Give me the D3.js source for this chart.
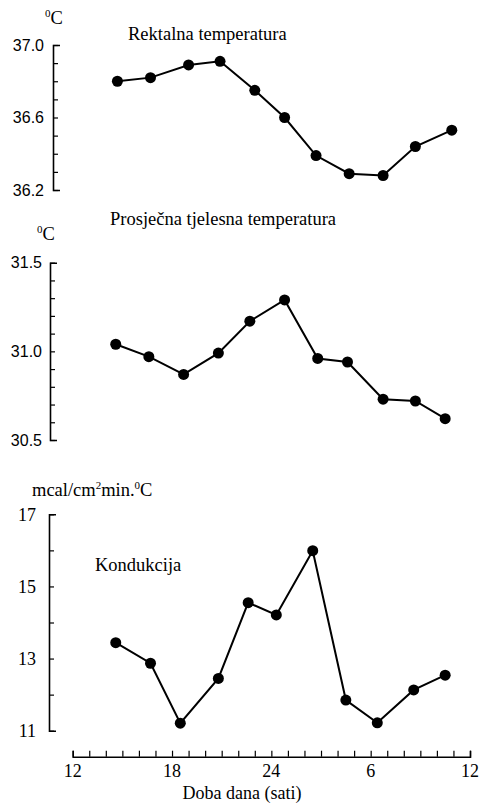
<!DOCTYPE html>
<html>
<head>
<meta charset="utf-8">
<script src="https://cdn.jsdelivr.net/npm/d3@7"></script>
<style>
	body { margin: 0; background: #fff; }
	svg { display: block; }
	.serif { font-family: "Liberation Serif", "DejaVu Serif", "Times New Roman", serif; }
	.sans { font-family: "Liberation Sans", Arial, sans-serif; }
</style>
</head>
<body>
<svg id="chart"></svg>
<script>
// data (hours run 12 -> 36, i.e. noon to noon)
let rectHours = [14.7, 16.7, 19.0, 20.9, 23.0, 24.8, 26.7, 28.7, 30.75, 32.7, 34.9];
let rectTemp = [36.80, 36.82, 36.89, 36.91, 36.75, 36.60, 36.39, 36.29, 36.28, 36.44, 36.53];

let bodyHours = [14.6, 16.6, 18.7, 20.8, 22.7, 24.8, 26.8, 28.6, 30.75, 32.7, 34.5];
let bodyTemp = [31.04, 30.97, 30.87, 30.99, 31.17, 31.29, 30.96, 30.94, 30.73, 30.72, 30.62];

let condHours = [14.6, 16.7, 18.5, 20.8, 22.6, 24.3, 26.5, 28.5, 30.4, 32.6, 34.5];
let condValues = [13.44, 12.87, 11.21, 12.45, 14.55, 14.21, 15.99, 11.85, 11.22, 12.13, 12.54];

let xTickHours = [12, 18, 24, 30, 36];
let xTickLabels = ["12", "18", "24", "6", "12"];

let rectTicks = [37.0, 36.6, 36.2];
let bodyTicks = [31.5, 31.0, 30.5];
let condTicks = [17, 15, 13, 11];

let width = 486;
let height = 803;

let svg = d3.select("#chart")
	.attr("width", width)
	.attr("height", height);

// shared time scale, only drawn under the last panel
let scaleX = d3.scaleLinear()
	.domain([12, 36])
	.range([72.7, 470]);

// one panel: y axis with inward ticks, labels, line and dots
function drawPanel(opts) {
	let scaleY = d3.scaleLinear()
		.domain(opts.domain)
		.range(opts.range);

	let axis = d3.axisRight(scaleY)
		.tickValues(d3.range(opts.domain[0], opts.domain[1] + opts.step / 2, opts.step))
		.tickFormat("")
		.tickSize(5)
		.tickSizeOuter(7);

	let g = svg.append("g")
		.attr("transform", "translate(" + opts.axisX + ",0)")
		.call(axis);
	g.select(".domain").attr("stroke", "#000").attr("stroke-width", 1.6);
	g.selectAll(".tick line").attr("stroke", "#000").attr("stroke-width", 1.2);

	svg.append("g")
		.selectAll("text")
		.data(opts.labels)
		.join("text")
		.attr("class", opts.labelClass)
		.attr("x", opts.axisX - opts.labelGap)
		.attr("y", d => scaleY(d))
		.attr("dy", "0.36em")
		.attr("text-anchor", "end")
		.attr("font-size", opts.labelSize)
		.text(d => opts.fmt(d));

	let pts = opts.hours.map((h, i) => [h, opts.values[i]]);

	let line = d3.line()
		.x(d => scaleX(d[0]))
		.y(d => scaleY(d[1]));

	svg.append("path")
		.datum(pts)
		.attr("d", line)
		.attr("fill", "none")
		.attr("stroke", "#000")
		.attr("stroke-width", 2);

	svg.append("g")
		.selectAll("circle")
		.data(pts)
		.join("circle")
		.attr("cx", d => scaleX(d[0]))
		.attr("cy", d => scaleY(d[1]))
		.attr("r", 5.5)
		.attr("fill", "#000");
}

drawPanel({
	hours: rectHours, values: rectTemp,
	domain: [36.2, 37.0], range: [190, 45], step: 0.1, axisX: 53,
	labels: rectTicks, labelGap: 9, labelClass: "sans", labelSize: 16,
	fmt: d3.format(".1f")
});

drawPanel({
	hours: bodyHours, values: bodyTemp,
	domain: [30.5, 31.5], range: [440, 262.7], step: 0.1, axisX: 50,
	labels: bodyTicks, labelGap: 8, labelClass: "sans", labelSize: 16,
	fmt: d3.format(".1f")
});

drawPanel({
	hours: condHours, values: condValues,
	domain: [11, 17], range: [730.7, 514.3], step: 1, axisX: 49,
	labels: condTicks, labelGap: 13, labelClass: "serif", labelSize: 18,
	fmt: d3.format("d")
});

// time axis with hourly ticks pointing up
let xAxis = d3.axisTop(scaleX)
	.tickValues(d3.range(12, 37, 1))
	.tickFormat("")
	.tickSize(6)
	.tickSizeOuter(6);

let gx = svg.append("g")
	.attr("transform", "translate(0,756.7)")
	.call(xAxis);
gx.select(".domain").attr("stroke", "#000").attr("stroke-width", 1.6);
gx.selectAll(".tick line").attr("stroke", "#000").attr("stroke-width", 1.2);

svg.append("g")
	.selectAll("text")
	.data(xTickHours)
	.join("text")
	.attr("class", "serif")
	.attr("x", d => scaleX(d))
	.attr("y", 777)
	.attr("text-anchor", "middle")
	.attr("font-size", 18)
	.text((d, i) => xTickLabels[i]);

// titles and units
function label(x, y, txt, anchor, size) {
	return svg.append("text")
		.attr("class", "serif")
		.attr("x", x)
		.attr("y", y)
		.attr("text-anchor", anchor || "start")
		.attr("font-size", size || 18.5)
		.text(txt);
}

label(128, 40, "Rektalna temperatura");
label(110, 225, "Prosječna tjelesna temperatura");
label(95, 571, "Kondukcija");
label(242, 799, "Doba dana (sati)", "middle", 18);

function unit(x, y, parts) {
	let t = svg.append("text")
		.attr("class", "serif")
		.attr("x", x)
		.attr("y", y)
		.attr("font-size", 18.5);
	parts.forEach(p => {
		let s = t.append("tspan").text(p[0]);
		if (p[1]) {
			s.attr("font-size", 11).attr("baseline-shift", "62%");
		}
	});
}

unit(45, 24, [["0", true], ["C"]]);
unit(37, 240, [["0", true], ["C"]]);
unit(32, 496, [["mcal/cm"], ["2", true], ["min."], ["0", true], ["C"]]);
</script>
</body>
</html>
